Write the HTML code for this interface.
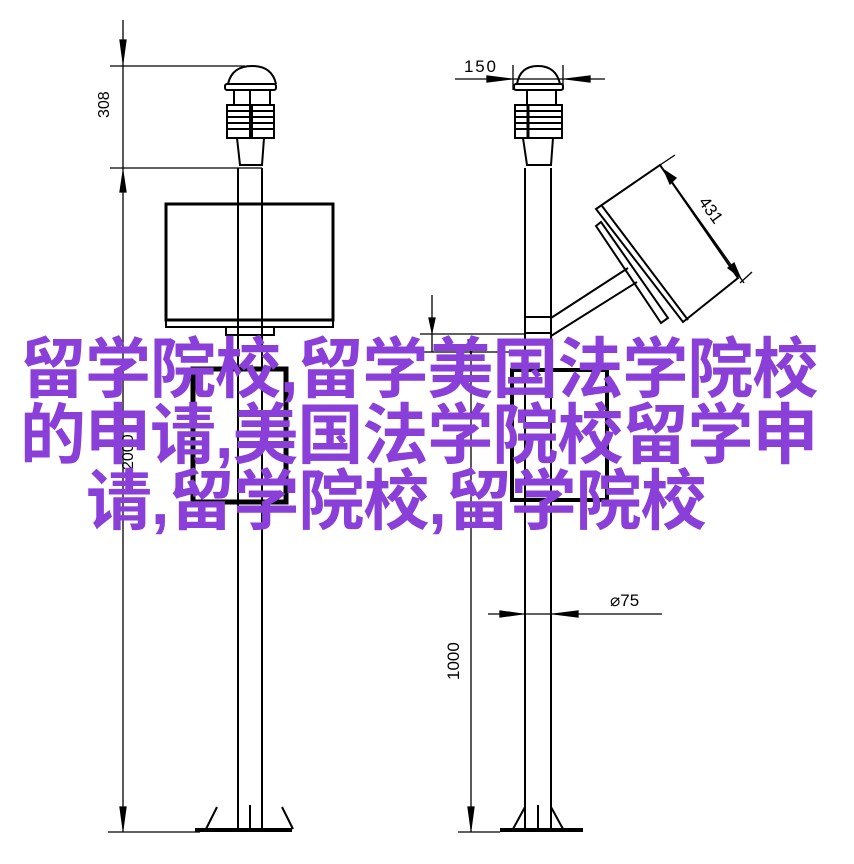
<!DOCTYPE html>
<html><head><meta charset="utf-8"><style>
html,body{margin:0;padding:0;background:#fff;width:854px;height:864px;overflow:hidden;position:relative}
svg{position:absolute;left:0;top:0}
.t{position:absolute;left:20px;top:336px;width:850px;font-family:"Liberation Sans","Noto Sans CJK SC",sans-serif;font-weight:bold;font-size:66px;line-height:66px;color:#8b3fd9;white-space:nowrap;letter-spacing:-1px}
.t span{padding-left:66px}
</style></head><body>
<svg width="854" height="864" viewBox="0 0 854 864" fill="none" stroke="#000" stroke-width="1.3">
<line x1="123" y1="20" x2="123" y2="832"/>
<line x1="110" y1="66" x2="245" y2="66"/>
<line x1="110" y1="168" x2="262" y2="168"/>
<line x1="108" y1="832" x2="200" y2="832"/>
<polygon points="120,40 126,40 123,62" fill="#000"/>
<polygon points="120,192 126,192 123,172" fill="#000"/>
<polygon points="120,807 126,807 123,829" fill="#000"/>
<text x="0" y="0" transform="translate(109,118) rotate(-90)" font-family="Liberation Sans" font-size="16" fill="#000" stroke="none">308</text>
<text x="0" y="0" transform="translate(133,470) rotate(-90)" font-family="Liberation Sans" font-size="16" fill="#000" stroke="none">2000</text>
<path d="M228,84 Q232,66 252,66 Q272,66 276,84" stroke-width="2"/>
<rect x="225" y="84" width="51" height="6" rx="2" stroke-width="2"/>
<line x1="234" y1="90" x2="234" y2="105" stroke-width="2"/><line x1="270" y1="90" x2="270" y2="105" stroke-width="2"/><line x1="250" y1="90" x2="250" y2="105" stroke-width="2"/>
<g stroke-width="2"><rect x="227" y="105" width="47" height="33"/>
<line x1="227" y1="111" x2="274" y2="111"/><line x1="227" y1="117" x2="274" y2="117"/><line x1="227" y1="123" x2="274" y2="123"/><line x1="227" y1="129" x2="274" y2="129"/>
<line x1="251" y1="105" x2="251" y2="138" stroke-width="4"/>
<path d="M237,138 L240,165 L262,165 L264,138"/></g>
<line x1="238" y1="168" x2="238" y2="832" stroke-width="2"/>
<line x1="262" y1="168" x2="262" y2="832" stroke-width="2"/>
<rect x="166" y="204" width="167" height="116" stroke-width="3"/>
<rect x="166" y="320" width="167" height="7" stroke-width="2"/>
<rect x="226" y="327" width="48" height="8" stroke-width="2"/>
<rect x="193" y="369" width="93" height="133" stroke-width="5"/>
<path d="M206,829 L217,807 M293,829 L282,807 M250,829 L250,805" stroke-width="2"/>
<line x1="195" y1="830" x2="292" y2="830" stroke-width="4"/>
<line x1="525" y1="168" x2="525" y2="832" stroke-width="2"/>
<line x1="551" y1="168" x2="551" y2="832" stroke-width="2"/>
<path d="M517,84 Q520,66 538,66 Q556,66 560,84" stroke-width="2"/>
<rect x="514" y="84" width="49" height="6" rx="2" stroke-width="2"/>
<line x1="527" y1="90" x2="527" y2="105" stroke-width="2"/><line x1="556" y1="90" x2="556" y2="105" stroke-width="2"/>
<g stroke-width="2"><rect x="515" y="105" width="47" height="33"/>
<line x1="515" y1="111" x2="562" y2="111"/><line x1="515" y1="117" x2="562" y2="117"/><line x1="515" y1="123" x2="562" y2="123"/><line x1="515" y1="129" x2="562" y2="129"/>
<line x1="528" y1="105" x2="528" y2="138" stroke-width="3"/>
<path d="M523,138 L527,165 L551,165 L553,138"/></g>
<line x1="455" y1="79" x2="605" y2="79"/>
<line x1="513" y1="65" x2="513" y2="90"/><line x1="563" y1="65" x2="563" y2="90"/>
<polygon points="487,76 487,82 511,79" fill="#000"/><polygon points="590,76 590,82 566,79" fill="#000"/>
<text x="464" y="72" font-family="Liberation Sans" font-size="17" fill="#000" stroke="none" textLength="32">150</text>
<rect x="525" y="317" width="26" height="16" stroke-width="2"/>
<line x1="551" y1="318" x2="628" y2="268" stroke-width="2"/>
<line x1="551" y1="336" x2="637" y2="282" stroke-width="2"/>
<polygon points="596,209 660,165 738,278 683,322" stroke-width="2"/>
<line x1="602" y1="206" x2="688" y2="320" stroke-width="2"/>
<polygon points="596,226 601,222 668,318 661,323" stroke-width="2"/>
<line x1="660" y1="165" x2="675" y2="155"/>
<line x1="740" y1="283" x2="752" y2="272"/>
<line x1="660" y1="165" x2="744" y2="283"/>
<polygon points="664,170 676,178 670,184" fill="#000"/>
<polygon points="740,277 728,268 734,263" fill="#000"/>
<text transform="translate(698,202) rotate(54)" font-family="Liberation Sans" font-size="17" fill="#000" stroke="none">431</text>
<line x1="432" y1="295" x2="432" y2="352"/>
<polygon points="429,318 435,318 432,332" fill="#000"/>
<line x1="420" y1="334" x2="525" y2="334"/>
<line x1="420" y1="352" x2="525" y2="352"/>
<line x1="471" y1="340" x2="471" y2="832"/>
<polygon points="468,340 474,340 471,354" fill="#000"/>
<rect x="512" y="370" width="95" height="130" stroke-width="4"/>
<line x1="488" y1="614" x2="662" y2="614"/>
<polygon points="500,611 500,617 522,614" fill="#000"/><polygon points="578,611 578,617 554,614" fill="#000"/>
<text x="610" y="606" font-family="Liberation Sans" font-size="17" fill="#000" stroke="none">⌀75</text>
<text transform="translate(459,680) rotate(-90)" font-family="Liberation Sans" font-size="17" fill="#000" stroke="none">1000</text>
<polygon points="468,807 474,807 471,829" fill="#000"/>
<line x1="458" y1="832" x2="500" y2="832"/>
<path d="M513,829 L525,807 M563,829 L551,807 M538,829 L538,805" stroke-width="2"/>
<line x1="500" y1="830" x2="583" y2="830" stroke-width="4"/>
</svg>
<div class="t">留学院校,留学美国法学院校<br>的申请,美国法学院校留学申<br><span>请,留学院校,留学院校</span></div>
</body></html>
